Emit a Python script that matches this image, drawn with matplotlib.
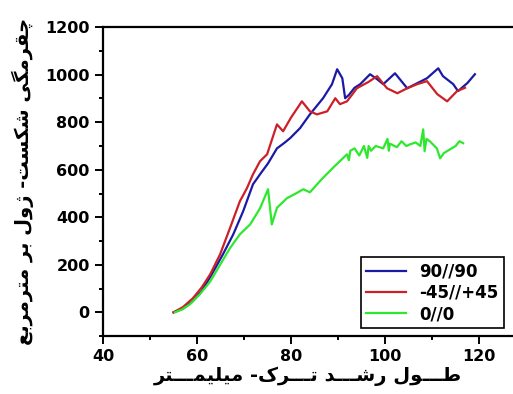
import matplotlib
matplotlib.use('Agg')
import matplotlib.pyplot as plt
from matplotlib.ticker import MultipleLocator

# crack length (mm) / fracture toughness readings, picked off the figure
x_9090 = [55.0, 57.0, 59.0, 61.0, 63.0, 65.5, 67.7, 69.8, 71.9, 72.8, 73.4, 75.1, 77.0, 78.5,
          79.8, 81.9, 84.0, 86.8, 88.7, 89.8, 90.9, 91.5, 92.3, 93.5, 94.7, 96.8, 98.3, 99.6, 102.1,
          104.7, 106.8, 108.9, 111.3, 112.3, 114.5, 115.5, 117.5, 119.1]
y_9090 = [0, 15, 45, 90, 155, 244, 328, 425, 539, 564, 581, 627, 690, 712,
          733, 775, 833, 901, 960, 1023, 985, 901, 915, 945, 960, 1002, 981, 960, 1006,
          943, 964, 985, 1027, 994, 960, 931, 965, 1002]

x_4545 = [55.0, 57.0, 59.1, 61.0, 62.8, 64.9, 67.0, 69.1, 70.6, 71.9, 73.4, 74.9, 77.0, 78.3,
          80.0, 82.3, 84.0, 85.5, 87.7, 89.4, 90.4, 91.9, 94.0, 96.5, 98.3, 100.4, 102.6,
          104.7, 106.8, 108.9, 111.1, 113.2, 115.3, 117.0]
y_4545 = [0, 22, 59, 105, 160, 244, 354, 467, 522, 581, 636, 665, 791, 762,
          820, 888, 846, 833, 846, 901, 876, 888, 943, 970, 994, 943, 922,
          943, 960, 973, 918, 888, 931, 945]

x_00 = [55.3, 56.8, 58.5, 60.6, 62.8, 64.9, 67.0, 69.1, 71.3, 73.4, 75.1, 75.9, 77.0, 79.1, 81.0,
        82.6, 84.0, 86.5, 89.0, 91.9, 92.3, 92.6, 93.5, 94.5, 95.5, 96.2, 96.5, 97.0, 98.0, 99.6,
        100.5, 100.8, 101.0, 102.5, 103.5, 104.5, 105.3, 106.5, 107.5, 108.1, 108.4, 108.8, 109.5,
        110.5, 111.0, 111.7, 112.5, 113.8, 115.0, 115.8, 116.6]
y_00 = [0, 12, 34, 76, 130, 200, 270, 328, 370, 438, 518, 370, 440, 480, 500,
        518, 505, 560, 610, 665, 640, 680, 690, 660, 700, 650, 700, 680, 700, 690,
        730, 680, 710, 695, 720, 700, 707, 715, 700, 770, 678, 730, 720,
        700, 690, 648, 670, 686, 700, 720, 712]

labels = ['90//90', '-45//+45', '0//0']
colors = ['#1a1aa6', '#cc2028', '#2ee82e']

xlabel_txt = 'طـــول رشـــد تـــرک- میلیمـــتر'
ylabel_txt = 'چقرمگی شکست- ژول بر مترمربع'

# presentation forms: isolated, final, initial, medial
FORMS = {
    'ط': 'ﻁﻂﻃﻄ', 'ل': 'ﻝﻞﻟﻠ', 'ش': 'ﺵﺶﺷﺸ', 'ت': 'ﺕﺖﺗﺘ', 'ک': 'ﮎﮏﮐﮑ',
    'م': 'ﻡﻢﻣﻤ', 'ی': 'ﯼﯽﯾﯿ', 'ب': 'ﺏﺐﺑﺒ', 'چ': 'ﭺﭻﭼﭽ', 'ق': 'ﻕﻖﻗﻘ',
    'گ': 'ﮒﮓﮔﮕ', 'ع': 'ﻉﻊﻋﻌ', 'س': 'ﺱﺲﺳﺴ',
    'و': 'ﻭﻮ', 'ر': 'ﺭﺮ', 'د': 'ﺩﺪ', 'ژ': 'ﮊﮋ',
}


def dual(c):
    return c == 'ـ' or (c in FORMS and len(FORMS[c]) == 4)


def joins(c):
    return c == 'ـ' or c in FORMS


def shape(text):
    out = []
    for i, c in enumerate(text):
        if c not in FORMS:
            out.append(c)
            continue
        prev = text[i - 1] if i > 0 else ' '
        nxt = text[i + 1] if i + 1 < len(text) else ' '
        p = dual(prev)
        n = dual(c) and joins(nxt)
        f = FORMS[c]
        if p and n:
            out.append(f[3])
        elif p:
            out.append(f[1])
        elif n:
            out.append(f[2])
        else:
            out.append(f[0])
    return ''.join(out)[::-1]


fig = plt.figure(figsize=(5.13, 3.94), dpi=100)
ax = fig.add_axes([0.2008, 0.147, 0.7992, 0.784])

ax.plot(x_9090, y_9090, color=colors[0], lw=1.6, label=labels[0])
ax.plot(x_4545, y_4545, color=colors[1], lw=1.6, label=labels[1])
ax.plot(x_00, y_00, color=colors[2], lw=1.6, label=labels[2])

ax.set_xlim(40, 127.2)
ax.set_ylim(-100, 1200)
ax.xaxis.set_major_locator(MultipleLocator(20))
ax.xaxis.set_minor_locator(MultipleLocator(10))
ax.yaxis.set_major_locator(MultipleLocator(200))
ax.yaxis.set_minor_locator(MultipleLocator(100))
ax.spines['right'].set_visible(False)
for s in ['left', 'bottom', 'top']:
    ax.spines[s].set_linewidth(1.6)
ax.tick_params(which='both', direction='out', top=False, right=False, width=1.4)
ax.tick_params(which='major', length=6, labelsize=11.5)
ax.tick_params(which='minor', length=3)
for t in ax.get_xticklabels() + ax.get_yticklabels():
    t.set_fontweight('bold')

ax.set_xlabel(shape(xlabel_txt), fontsize=14, fontweight='bold', labelpad=2)
ax.set_ylabel(shape(ylabel_txt), fontsize=14, fontweight='bold', labelpad=8)

leg = ax.legend(loc='lower right', bbox_to_anchor=(0.982, 0.1675), bbox_transform=fig.transFigure,
                prop={'weight': 'bold', 'size': 12}, fancybox=False, framealpha=1,
                edgecolor='black', handlelength=2.4, borderpad=0.3, labelspacing=0.2,
                handletextpad=0.8, borderaxespad=0)
leg.get_frame().set_linewidth(1.2)

fig.savefig('out.png', dpi=100)
